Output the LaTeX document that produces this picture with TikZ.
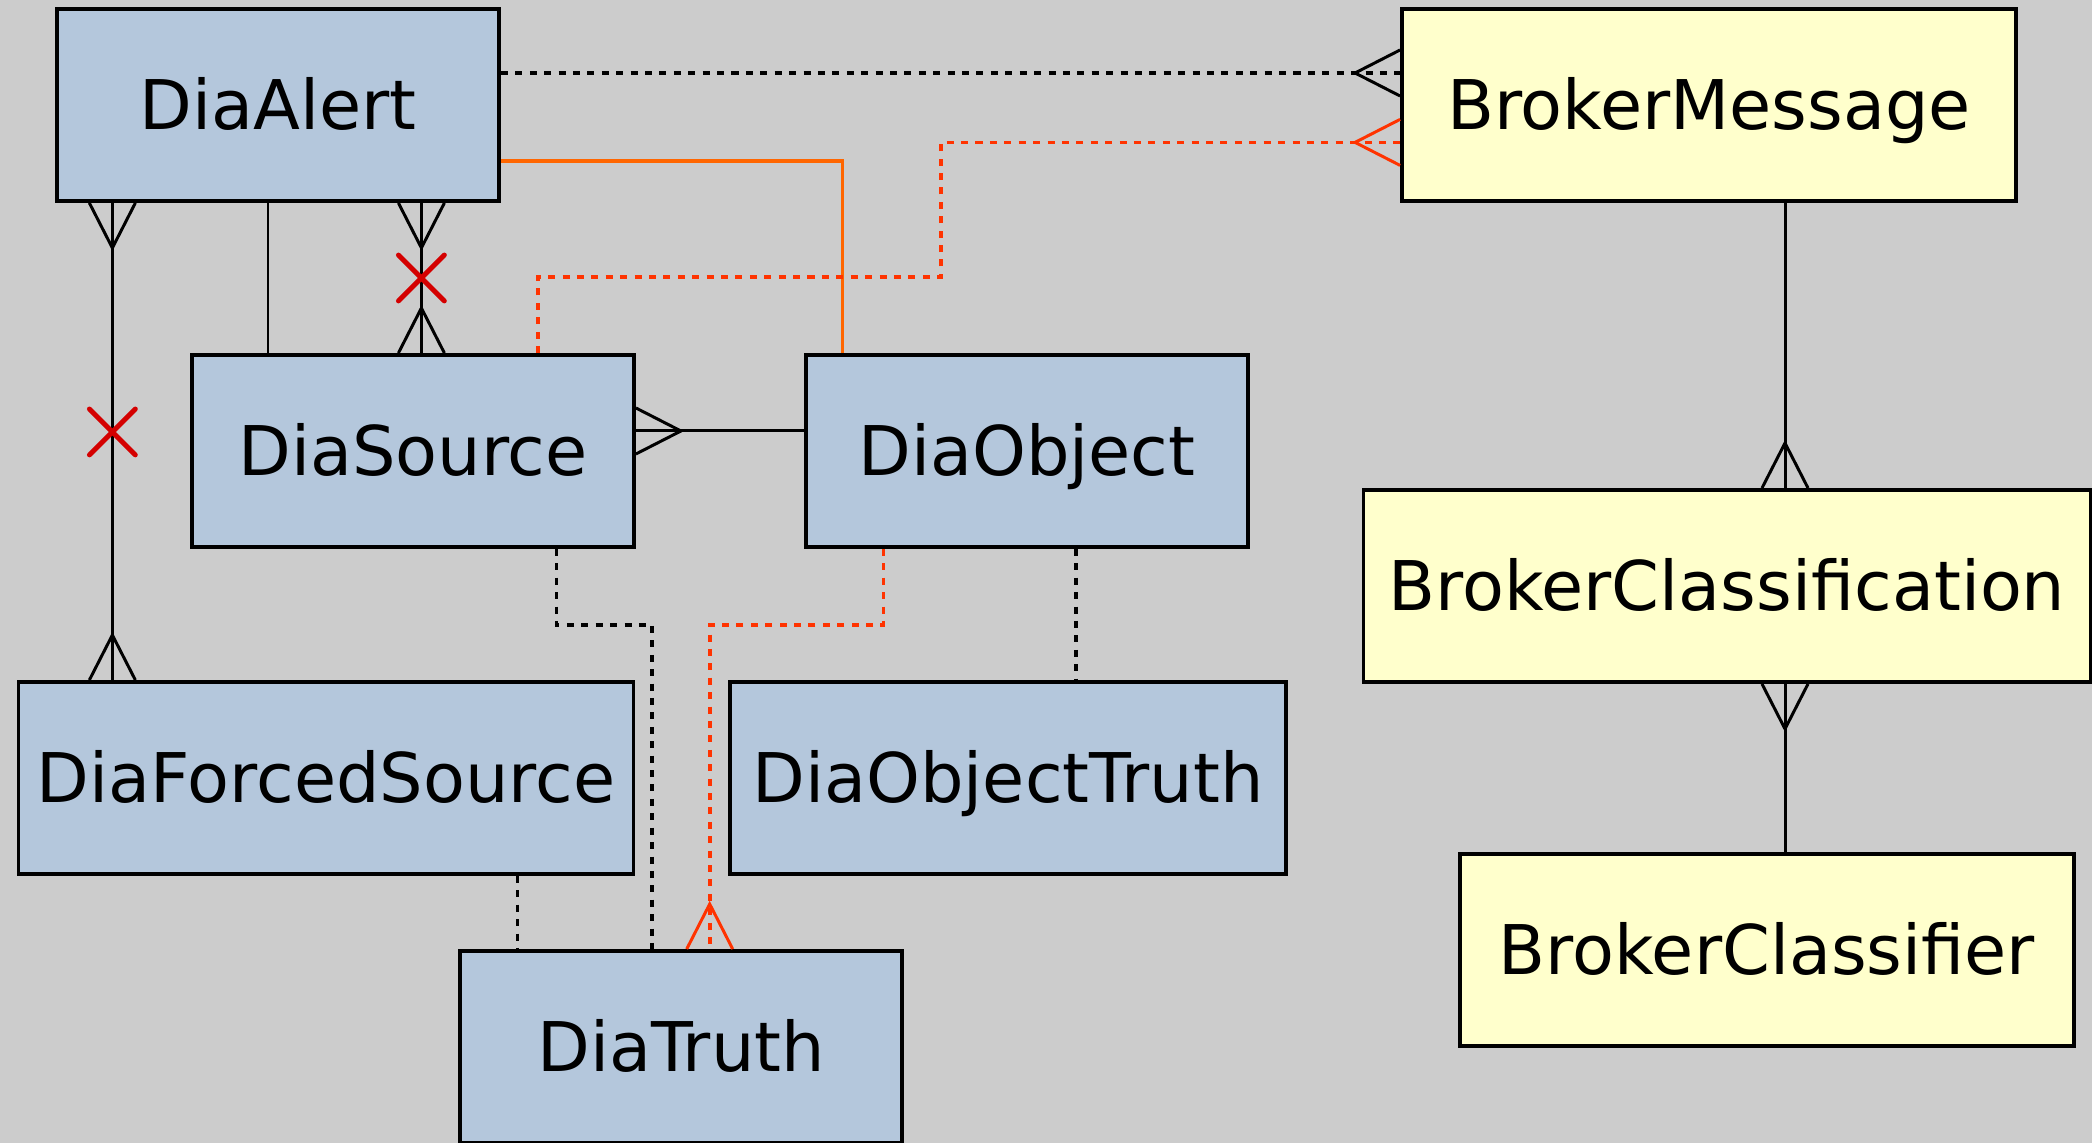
\documentclass[tikz,border=0pt]{standalone}
\usepackage{fontspec}
\setmainfont{DejaVu Sans}
\usetikzlibrary{positioning,calc,shapes.misc}
\definecolor{bgGray}{HTML}{CCCCCC}
\definecolor{diaBlue}{HTML}{B4C7DC}
\definecolor{brokerYellow}{HTML}{FFFFCC}
\definecolor{linkOrange}{HTML}{FF6600}
\definecolor{linkRed}{HTML}{FF3300}
\definecolor{crossRed}{HTML}{D40000}

\begin{document}
\begin{tikzpicture}[
  dia/.style={rectangle, draw, line width=1.1pt, fill=diaBlue, minimum width=4.42cm, minimum height=1.92cm, inner sep=0pt, text height=14.2pt, text depth=0pt},
  broker/.style={dia, fill=brokerYellow, minimum width=6.14cm},
  link/.style={line width=0.85pt},
  optional/.style={line width=1.05pt, dash pattern=on 2pt off 2.1pt},
  xmark/.style={cross out, draw=crossRed, solid, line width=1.4pt, line cap=round, minimum size=4.1mm, inner sep=0pt},
  crow/.pic={\draw[link, pic actions] (0,0.23) -- (0.45,0) -- (0,-0.23);},
  every node/.style={font=\fontsize{19.5}{23}\selectfont}
]
\useasboundingbox[fill=bgGray] (0,0) rectangle (20.92,11.43);

\node[dia] (alert) at (2.78,10.38) {DiaAlert};
\node[broker] (msg) at (17.09,10.38) {BrokerMessage};
\node[dia] (src) at (4.13,6.92) {DiaSource};
\node[dia] (obj) at (10.27,6.92) {DiaObject};
\node[broker, minimum width=7.27cm] (cls) at (17.27,5.57) {BrokerClassification};
\node[dia, minimum width=6.15cm] (forced) at (3.26,3.65) {DiaForcedSource};
\node[dia, minimum width=5.56cm] (objtruth) at (10.08,3.65) {DiaObjectTruth};
\node[dia] (truth) at (6.81,0.96) {DiaTruth};
\node[broker] (clsf) at (17.67,1.93) {BrokerClassifier};

\coordinate (af) at ([xshift=5.73mm]alert.south west);
\coordinate (as) at ([xshift=-1mm]alert.south);
\coordinate (asx) at ([xshift=14.34mm]alert.south);
\coordinate (oo) at ([xshift=4.87mm]obj.south);
\coordinate (ft) at ([xshift=19.15mm]forced.south);
\coordinate (mc) at ([xshift=7.6mm]msg.south);
\coordinate (redjog) at (9.41,8.66);

\draw[optional] ([yshift=3.2mm]alert.east) -- ([yshift=3.2mm]msg.west);
\pic[rotate=180] at ([yshift=3.2mm]msg.west) {crow};
\draw[line width=0.95pt, linkOrange] ([yshift=-5.6mm]alert.east) -| ([xshift=3.86mm]obj.north west);
\draw[optional, linkRed] ([xshift=12.47mm]src.north) |- (redjog) |- ([yshift=-3.74mm]msg.west);
\pic[rotate=180, linkRed] at ([yshift=-3.74mm]msg.west) {crow};

\draw[link] (af) -- node[pos=0.48, xmark] {} (af |- forced.north);
\pic[rotate=-90] at (af) {crow};
\pic[rotate=90] at (af |- forced.north) {crow};
\draw[link] (as) -- (as |- src.north);
\draw[link] (asx) -- node[pos=0.5, xmark] {} (asx |- src.north);
\pic[rotate=-90] at (asx) {crow};
\pic[rotate=90] at (asx |- src.north) {crow};

\draw[link] ([yshift=2mm]src.east) -- ([yshift=2mm]obj.west);
\pic at ([yshift=2mm]src.east) {crow};
\draw[optional] ([xshift=14.34mm]src.south) -- ++(0,-0.76) -| ([xshift=-2.87mm]truth.north);
\draw[optional, linkRed] ([xshift=-14.35mm]obj.south) -- ++(0,-0.76) -| ([xshift=2.87mm]truth.north);
\pic[rotate=90, linkRed] at ([xshift=2.87mm]truth.north) {crow};
\draw[optional] (oo) -- (oo |- objtruth.north);
\draw[optional] (ft) -- (ft |- truth.north);

\draw[link] (mc) -- (mc |- cls.north);
\pic[rotate=90] at (mc |- cls.north) {crow};
\draw[link] (mc |- cls.south) -- (mc |- clsf.north);
\pic[rotate=-90] at (mc |- cls.south) {crow};

\end{tikzpicture}
\end{document}
